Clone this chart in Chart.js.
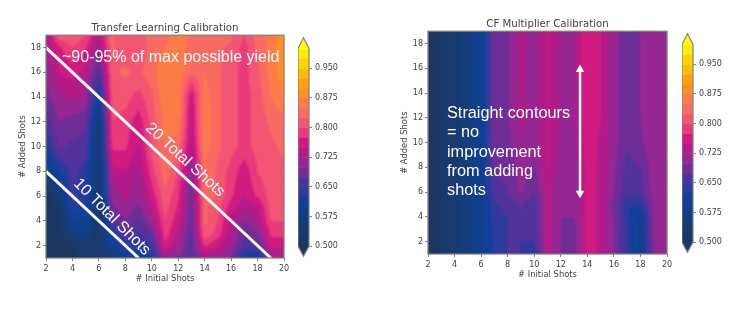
<!DOCTYPE html>
<html><head><meta charset="utf-8">
<script src="https://cdn.jsdelivr.net/npm/chart.js@4"></script>
<style>
html,body{margin:0;padding:0;background:#fff;width:747px;height:316px;overflow:hidden}
canvas{position:absolute;filter:blur(0.55px)}
</style></head><body>
<canvas id="c1"></canvas><canvas id="c2"></canvas><canvas id="c3"></canvas><canvas id="c4"></canvas>
<script>
// ---- data ----
const initialShots=[2,3,4,5,6,7,8,9,10,11,12,13,14,15,16,17,18,19,20];
const addedShots=[1,2,3,4,5,6,8,10,12,14,16,18,19];
const xTickValues=[2,4,6,8,10,12,14,16,18,20];
const yTickValues=[2,4,6,8,10,12,14,16,18];
const colorbarTicks=[0.5,0.575,0.65,0.725,0.8,0.875,0.95];
const levelStops=[0.5,0.525,0.55,0.575,0.6,0.625,0.65,0.675,0.7,0.725,0.75,0.775,0.8,0.825,0.85,0.875,0.9,0.925,0.95,0.975,1.0];
const levelColors=['#1b3663','#193a6e','#153d7c','#113f8c','#10409a','#2e3a9e','#4f339b','#6e2d97','#962692','#b31c88','#d01a80','#e93a7c','#f45572','#f96a60','#fc7c48','#fe8f22','#ffa408','#ffbc00','#ffd400','#ffec00','#ffff00'];

const tl1 =[.51,.51,.52,.53,.53,.56,.60,.61,.62,.72,.70,.67,.72,.72,.70,.62,.60,.72,.73];
const tl2 =[.51,.51,.52,.55,.53,.60,.64,.63,.65,.77,.72,.67,.78,.75,.72,.66,.66,.76,.75];
const tl3 =[.51,.51,.56,.58,.53,.63,.67,.65,.68,.79,.74,.67,.82,.79,.73,.68,.70,.78,.79];
const tl4 =[.51,.52,.60,.60,.53,.66,.70,.67,.72,.80,.76,.68,.83,.80,.74,.70,.73,.80,.80];
const tl5 =[.51,.53,.63,.62,.54,.69,.72,.69,.74,.81,.77,.68,.83,.81,.76,.73,.74,.81,.81];
const tl6 =[.51,.55,.65,.63,.54,.71,.73,.71,.76,.82,.78,.68,.84,.82,.78,.75,.78,.81,.82];
const tl8 =[.56,.62,.66,.64,.54,.74,.75,.72,.79,.84,.80,.70,.85,.82,.79,.76,.80,.82,.82];
const tl10=[.62,.68,.67,.66,.54,.78,.78,.745,.81,.85,.84,.73,.86,.83,.81,.79,.81,.82,.83];
const tl12=[.66,.70,.69,.68,.55,.80,.79,.76,.81,.86,.86,.745,.87,.83,.81,.79,.81,.83,.84];
const tl14=[.69,.72,.73,.72,.60,.81,.81,.79,.82,.87,.87,.75,.86,.83,.81,.79,.81,.85,.875];
const tl16=[.71,.75,.76,.74,.66,.82,.83,.82,.84,.87,.87,.83,.85,.83,.81,.79,.82,.86,.89];
const tl18=[.72,.77,.80,.78,.71,.83,.81,.80,.84,.85,.86,.84,.84,.83,.82,.79,.83,.86,.89];
const tl19=[.73,.82,.82,.80,.74,.83,.81,.81,.84,.84,.88,.84,.85,.84,.83,.80,.84,.86,.89];
const transferRows=[tl1,tl2,tl3,tl4,tl5,tl6,tl8,tl10,tl12,tl14,tl16,tl18,tl19];

const cf1 =[.515,.525,.54,.57,.59,.63,.65,.65,.64,.74,.70,.69,.76,.745,.70,.64,.59,.70,.71];
const cf2 =[.515,.525,.54,.57,.59,.63,.65,.65,.65,.74,.70,.69,.76,.745,.70,.64,.59,.70,.71];
const cf3 =[.515,.525,.54,.57,.59,.635,.65,.655,.655,.74,.70,.69,.76,.745,.70,.64,.59,.71,.715];
const cf4 =[.515,.525,.54,.57,.59,.64,.65,.67,.66,.74,.70,.70,.76,.745,.695,.63,.585,.71,.715];
const cf5 =[.515,.525,.54,.57,.59,.645,.66,.68,.66,.74,.70,.70,.76,.745,.69,.63,.63,.71,.715];
const cf6 =[.515,.525,.54,.57,.59,.665,.675,.705,.675,.74,.70,.70,.76,.745,.70,.66,.665,.71,.715];
const cf8 =[.515,.525,.54,.57,.59,.68,.68,.715,.695,.75,.71,.71,.76,.745,.705,.665,.675,.715,.715];
const cf10=[.515,.525,.54,.57,.59,.69,.69,.725,.71,.75,.72,.715,.765,.745,.71,.68,.695,.72,.72];
const cf12=[.515,.525,.54,.57,.59,.69,.695,.73,.71,.75,.72,.72,.77,.75,.71,.685,.70,.72,.72];
const cf14=[.515,.525,.54,.57,.59,.69,.695,.73,.71,.75,.72,.72,.77,.75,.71,.685,.70,.72,.72];
const cf16=[.515,.525,.54,.57,.59,.69,.695,.735,.71,.75,.72,.72,.775,.75,.71,.685,.70,.72,.72];
const cf18=[.515,.525,.54,.57,.59,.69,.695,.735,.71,.75,.72,.72,.775,.75,.71,.685,.70,.72,.72];
const cf19=[.515,.525,.54,.57,.59,.69,.695,.735,.71,.75,.72,.72,.775,.75,.71,.685,.70,.72,.72];
const cfRows=[cf1,cf2,cf3,cf4,cf5,cf6,cf8,cf10,cf12,cf14,cf16,cf18,cf19];

const line20X=[2,19], line20Y=[18,1];
const line10X=[2,9], line10Y=[8,1];
const arrowX=[13.45,13.45], arrowY=[15.9,5.9];

// ---- helpers ----
const INK='#404040', EDGE='#808080', TICKFONT="'DejaVu Sans'";
const rgb=h=>[parseInt(h.slice(1,3),16),parseInt(h.slice(3,5),16),parseInt(h.slice(5,7),16)];
const levelRGB=levelColors.map(rgb);
function bandIndex(v){
  let i=0; while(i<levelStops.length-2 && v>=levelStops[i+1]) i++;
  return i;
}
function locate(arr,v){
  let i=0; while(i<arr.length-2 && v>arr[i+1]) i++;
  const t=(v-arr[i])/(arr[i+1]-arr[i]);
  return [i,Math.max(0,Math.min(1,t))];
}
const contourPlugin={
  id:'contour',
  beforeDatasetsDraw(chart){
    const rows=chart.options.plugins.contour.rows; if(!rows) return;
    const a=chart.chartArea, xs=chart.scales.x, ys=chart.scales.y;
    const w=Math.round(a.right-a.left), h=Math.round(a.bottom-a.top);
    const off=document.createElement('canvas'); off.width=w; off.height=h;
    const oc=off.getContext('2d'), img=oc.createImageData(w,h);
    for(let py=0;py<h;py++){
      const [j,tj]=locate(addedShots,ys.getValueForPixel(a.top+py+.5));
      for(let px=0;px<w;px++){
        const [i,ti]=locate(initialShots,xs.getValueForPixel(a.left+px+.5));
        const v=(rows[j][i]*(1-ti)+rows[j][i+1]*ti)*(1-tj)+(rows[j+1][i]*(1-ti)+rows[j+1][i+1]*ti)*tj;
        const c=levelRGB[bandIndex(v)], k=(py*w+px)*4;
        img.data[k]=c[0];img.data[k+1]=c[1];img.data[k+2]=c[2];img.data[k+3]=255;
      }
    }
    oc.putImageData(img,0,0);
    const ctx=chart.ctx;
    ctx.save();
    ctx.beginPath();ctx.rect(a.left,a.top,a.right-a.left,a.bottom-a.top);ctx.clip();
    ctx.drawImage(off,a.left,a.top);
    ctx.filter='blur(0.9px)';
    ctx.drawImage(off,a.left,a.top);
    ctx.restore();
  },
  afterDraw(chart){
    const o=chart.options.plugins.contour, ctx=chart.ctx, a=chart.chartArea;
    if(o.rows){
      ctx.save();ctx.strokeStyle=EDGE;ctx.lineWidth=1.3;
      ctx.strokeRect(a.left,a.top,a.right-a.left,a.bottom-a.top);ctx.restore();
    }
    ctx.save();ctx.fillStyle='#fff';ctx.textBaseline='middle';
    for(const t of (o.notes||[])){
      ctx.save();ctx.font=t.size+"px 'Liberation Sans'";
      ctx.translate(t.x-o.ox,t.y-o.oy);ctx.rotate((t.rot||0)*Math.PI/180);
      ctx.textAlign=t.align||'left';ctx.fillText(t.text,0,0);ctx.restore();
    }
    ctx.restore();
  }
};
const colorbarPlugin={
  id:'colorbar',
  beforeDatasetsDraw(chart){
    const a=chart.chartArea, y=chart.scales.y, ctx=chart.ctx;
    const L=a.left,R=a.right,M=(L+R)/2;
    const y0=y.getPixelForValue(0.5), y1=y.getPixelForValue(1.0);
    ctx.save();
    for(let i=0;i<levelStops.length-1;i++){
      ctx.fillStyle=levelColors[i];
      const t=y.getPixelForValue(levelStops[i+1]), b=y.getPixelForValue(levelStops[i]);
      ctx.fillRect(L,t,R-L,b-t+.5);
    }
    ctx.fillStyle='#ffff00';
    ctx.beginPath();ctx.moveTo(L,y1+.5);ctx.lineTo(M,a.top);ctx.lineTo(R,y1+.5);ctx.closePath();ctx.fill();
    ctx.fillStyle=levelColors[0];
    ctx.beginPath();ctx.moveTo(L,y0-.5);ctx.lineTo(M,a.bottom);ctx.lineTo(R,y0-.5);ctx.closePath();ctx.fill();
    ctx.strokeStyle=EDGE;ctx.lineWidth=1.2;
    ctx.beginPath();ctx.moveTo(L,y0);ctx.lineTo(M,a.bottom);ctx.lineTo(R,y0);ctx.lineTo(R,y1);ctx.lineTo(M,a.top);ctx.lineTo(L,y1);ctx.closePath();ctx.stroke();
    ctx.restore();
  }
};
function place(id,l,t,w,h){
  const c=document.getElementById(id);
  c.width=w;c.height=h;c.style.left=l+'px';c.style.top=t+'px';c.style.width=w+'px';c.style.height=h+'px';
  return c;
}
function pts(xs,ys){return xs.map((x,i)=>({x,y:ys[i]}));}
function heatmap(id,box,title,rows,extra,notes){
  const grid=[];
  rows.forEach((r,j)=>r.forEach((v,i)=>grid.push({x:initialShots[i],y:addedShots[j],v})));
  return new Chart(place(id,box.l,box.t,box.w,box.h),{
    type:'scatter',
    data:{datasets:[{label:title,data:grid,pointRadius:0,showLine:false},...extra]},
    plugins:[contourPlugin],
    options:{
      responsive:false,animation:false,events:[],
      layout:{padding:{left:0,right:box.padR,top:0,bottom:0}},
      plugins:{
        legend:{display:false},tooltip:{enabled:false},
        title:{display:true,text:title,color:INK,fullSize:false,font:{family:TICKFONT,size:10.2,weight:'normal',lineHeight:1.2},padding:{top:0,bottom:box.titlePad}},
        contour:{rows,notes,ox:box.l,oy:box.t}
      },
      scales:{
        x:{type:'linear',min:2,max:20,
          afterBuildTicks(s){s.ticks=xTickValues.map(value=>({value}));},
          afterFit(s){s.height=box.xh;},
          border:{display:false},
          grid:{drawOnChartArea:false,tickLength:3,color:EDGE},
          ticks:{color:INK,padding:3,maxRotation:0,autoSkip:false,font:{family:TICKFONT,size:8}},
          title:{display:true,text:'# Initial Shots',color:INK,padding:0,font:{family:TICKFONT,size:8.4}}},
        y:{type:'linear',min:1,max:19,
          afterBuildTicks(s){s.ticks=yTickValues.map(value=>({value}));},
          afterFit(s){s.width=box.yw;},
          border:{display:false},
          grid:{drawOnChartArea:false,tickLength:3,color:EDGE},
          ticks:{color:INK,padding:2,autoSkip:false,font:{family:TICKFONT,size:8}},
          title:{display:true,text:'# Added Shots',color:INK,padding:0,font:{family:TICKFONT,size:8.4}}}
      }
    }
  });
}
function colorbar(id,box){
  return new Chart(place(id,box.l,box.t,box.w,box.h),{
    type:'scatter',
    data:{datasets:[{label:'levels',data:levelStops.map(v=>({x:0,y:v})),pointRadius:0}]},
    plugins:[colorbarPlugin],
    options:{
      responsive:false,animation:false,events:[],
      layout:{padding:{left:0,right:0,top:box.pad,bottom:box.pad}},
      plugins:{legend:{display:false},tooltip:{enabled:false},title:{display:false}},
      scales:{
        x:{display:false,min:-1,max:1},
        y:{type:'linear',position:'right',min:0.4751,max:1.027,
          afterBuildTicks(s){s.ticks=colorbarTicks.map(value=>({value}));},
          afterFit(s){s.width=box.w-11;},
          border:{display:false},
          grid:{drawOnChartArea:false,tickLength:3,color:EDGE},
          ticks:{color:INK,padding:3,autoSkip:false,font:{family:TICKFONT,size:8},callback:v=>v.toFixed(3)}}
      }
    }
  });
}
const whiteLine=(xs,ys)=>({label:'line',data:pts(xs,ys),showLine:true,borderColor:'#fff',borderWidth:3,pointRadius:0,clip:false});
const arrow={label:'arrow',data:pts(arrowX,arrowY),showLine:true,borderColor:'#fff',borderWidth:2.5,
  pointStyle:'triangle',pointRadius:5,pointRotation:[0,180],pointBackgroundColor:'#fff',pointBorderColor:'#fff',pointBorderWidth:0};

heatmap('c1',{l:18,t:22,w:277,h:262,padR:11,yw:28,xh:26,titlePad:1},'Transfer Learning Calibration',transferRows,
  [whiteLine(line20X,line20Y),whiteLine(line10X,line10Y)],
  [{text:'~90-95% of max possible yield',x:62,y:58,size:16},
   {text:'20 Total Shots',x:185,y:160,size:16,rot:42.5,align:'center'},
   {text:'10 Total Shots',x:112,y:217,size:16,rot:45,align:'center'}]);
colorbar('c2',{l:298,t:30,w:50,h:234,pad:6});
heatmap('c3',{l:400,t:18,w:278,h:262,padR:11,yw:28,xh:26,titlePad:1},'CF Multiplier Calibration',cfRows,
  [arrow],
  [{text:'Straight contours',x:447,y:114,size:16.3},{text:'= no',x:447,y:133,size:16.3},
   {text:'improvement',x:447,y:153,size:16.3},{text:'from adding',x:447,y:172,size:16.3},{text:'shots',x:447,y:191,size:16.3}]);
colorbar('c4',{l:682,t:26,w:50,h:234,pad:6});
</script>
</body></html>
